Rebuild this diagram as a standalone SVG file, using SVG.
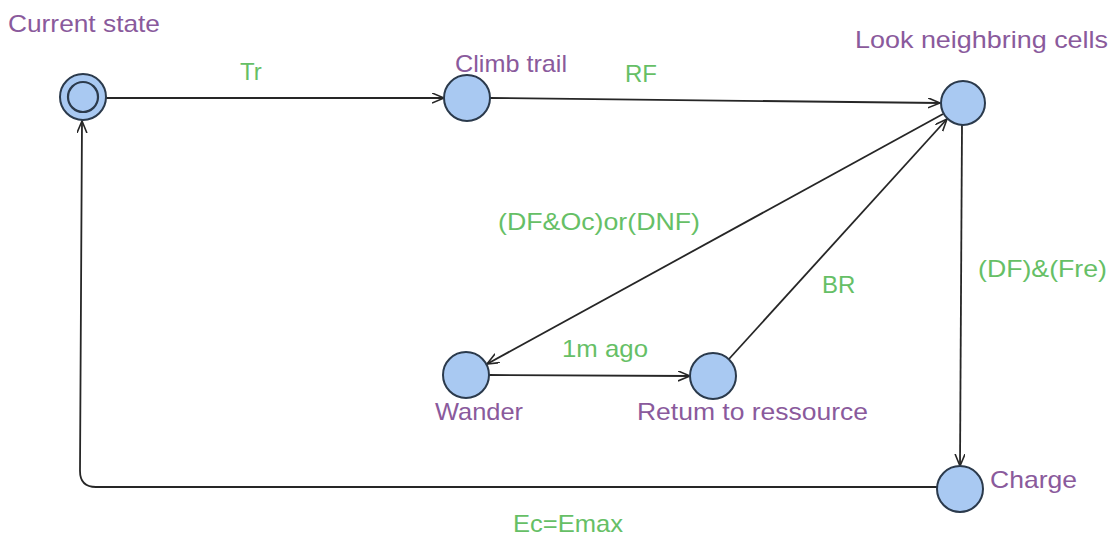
<svg xmlns="http://www.w3.org/2000/svg" width="1115" height="542" viewBox="0 0 1115 542">
  <style>
    .state { fill: #a9c9f2; stroke: #2b3a4c; stroke-width: 2; }
    .ring { fill: none; stroke: #2b3a4c; stroke-width: 2.2; }
    .name { font-family: "Liberation Sans", Arial, sans-serif; font-size: 24px; fill: #8a5a9c; }
    .guard { font-family: "Liberation Sans", Arial, sans-serif; font-size: 24px; fill: #66bf66; }
    .edge { fill: none; stroke: #262626; stroke-width: 1.8; marker-end: url(#arrow); }
  </style>
  <defs>
    <marker id="arrow" markerUnits="userSpaceOnUse" markerWidth="14" markerHeight="12" refX="12" refY="5" orient="auto">
      <path d="M0,0 L12,5 L0,10" fill="none" stroke="#262626" stroke-width="1.6"/>
    </marker>
  </defs>
  <rect width="1115" height="542" fill="#ffffff"/>

  <!-- transitions and their guard labels -->
  <g id="connectors">
    <path class="edge" d="M106,98 L444,98"/>
    <path class="edge" d="M490,98 L940,103"/>
    <path class="edge" d="M943,114 L487,364"/>
    <path class="edge" d="M729,359 L947,119"/>
    <path class="edge" d="M489,375 L690,376"/>
    <path class="edge" d="M962,125 L960,466"/>
    <path class="edge" d="M937,487 L96,487 Q80,487 80,471 L82,121"/>
    <text class="guard" x="240" y="80">Tr</text>
    <text class="guard" x="625" y="82">RF</text>
    <text class="guard" x="498" y="230" textLength="202" lengthAdjust="spacingAndGlyphs">(DF&amp;Oc)or(DNF)</text>
    <text class="guard" x="822" y="293">BR</text>
    <text class="guard" x="978" y="277" textLength="129" lengthAdjust="spacingAndGlyphs">(DF)&amp;(Fre)</text>
    <text class="guard" x="562" y="357" textLength="86" lengthAdjust="spacingAndGlyphs">1m ago</text>
    <text class="guard" x="513" y="532" textLength="110" lengthAdjust="spacingAndGlyphs">Ec=Emax</text>
  </g>

  <g id="current-state">
    <circle class="state" cx="83" cy="97" r="23"/>
    <circle class="ring" cx="83" cy="97" r="15"/>
    <text class="name" x="8" y="32" textLength="152" lengthAdjust="spacingAndGlyphs">Current state</text>
  </g>

  <g id="climb-trail">
    <circle class="state" cx="467" cy="98" r="23"/>
    <text class="name" x="455" y="72" textLength="112" lengthAdjust="spacingAndGlyphs">Climb trail</text>
  </g>

  <g id="look-neighbring-cells">
    <circle class="state" cx="963" cy="103" r="22"/>
    <text class="name" x="855" y="48" textLength="253" lengthAdjust="spacingAndGlyphs">Look neighbring cells</text>
  </g>

  <g id="wander">
    <circle class="state" cx="466" cy="375" r="23"/>
    <text class="name" x="435" y="420" textLength="88" lengthAdjust="spacingAndGlyphs">Wander</text>
  </g>

  <g id="return-to-ressource">
    <circle class="state" cx="713" cy="376" r="23"/>
    <text class="name" x="637" y="420" textLength="231" lengthAdjust="spacingAndGlyphs">Retum to ressource</text>
  </g>

  <g id="charge">
    <circle class="state" cx="960" cy="489" r="23"/>
    <text class="name" x="990" y="488" textLength="87" lengthAdjust="spacingAndGlyphs">Charge</text>
  </g>
</svg>
